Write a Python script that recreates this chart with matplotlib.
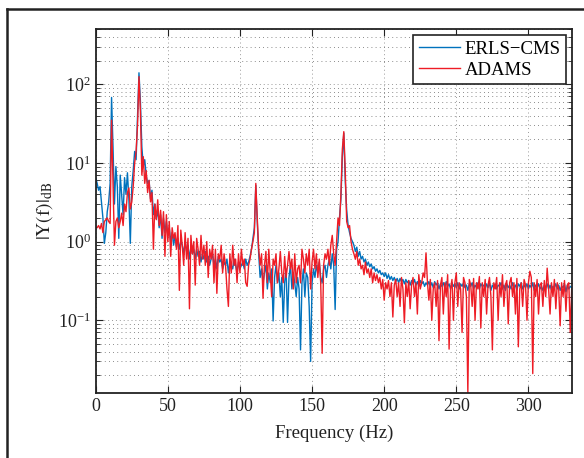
import numpy as np
import matplotlib
matplotlib.use("Agg")
import matplotlib.pyplot as plt
from matplotlib.lines import Line2D
from matplotlib.ticker import LogLocator, MultipleLocator

plt.rcParams['font.family'] = ['Liberation Serif', 'DejaVu Serif']
plt.rcParams['mathtext.fontset'] = 'stix'

freq_start, freq_step = 0, 1  # Hz

erls_cms = [
    6.5, 5.5, 4.5, 5.0, 3.2, 2.0, 0.95, 1.3, 2.4, 3.2,
    5.5, 68, 16, 3, 9, 5, 1.1, 7, 4, 2.2,
    6.5, 4, 7.5, 3.5, 0.95, 5, 8, 14, 11, 38,
    140, 60, 16, 9, 11, 7, 5.5, 6, 3.5, 4.5,
    2.2, 3.0, 2.0, 2.5, 1.5, 2.2, 1.1, 2.0, 1.3, 1.8,
    1.2, 1.5, 1.0, 1.3, 0.9, 1.2, 0.85, 1.1, 0.8, 1.0,
    0.9, 0.7, 1.0, 0.75, 0.9, 0.6, 0.85, 0.7, 0.8, 0.6,
    0.8, 0.65, 0.75, 0.55, 0.7, 0.6, 0.75, 0.55, 0.65, 0.5,
    0.6, 0.7, 0.5, 0.6, 0.45, 0.65, 0.55, 0.6, 0.45, 0.55,
    0.5, 0.6, 0.4, 0.55, 0.5, 0.45, 0.6, 0.5, 0.4, 0.55,
    0.45, 0.5, 0.55, 0.45, 0.6, 0.5, 0.55, 0.65, 0.8, 1.1,
    1.5, 5.2, 1.8, 0.7, 0.35, 0.45, 0.3, 0.4, 0.5, 0.25,
    0.4, 0.3, 0.45, 0.098, 0.35, 0.5, 0.3, 0.4, 0.2, 0.35,
    0.094, 0.3, 0.45, 0.094, 0.35, 0.5, 0.25, 0.4, 0.3, 0.2,
    0.35, 0.25, 0.042, 0.3, 0.45, 0.2, 0.4, 0.35, 0.15, 0.03,
    0.3, 0.45, 0.35, 0.5, 0.4, 0.55, 0.35, 0.3, 0.45, 0.5,
    0.35, 0.5, 0.6, 0.45, 0.7, 0.5, 0.137, 0.8, 1.0, 2.0,
    3.5, 12, 24, 6, 2.5, 1.6, 1.3, 1.1, 1.0, 0.9,
    0.75, 0.85, 0.65, 0.75, 0.6, 0.65, 0.55, 0.6, 0.5, 0.55,
    0.48, 0.52, 0.45, 0.48, 0.42, 0.45, 0.4, 0.43, 0.38, 0.4,
    0.36, 0.4, 0.34, 0.38, 0.33, 0.36, 0.32, 0.35, 0.31, 0.34,
    0.3, 0.34, 0.31, 0.33, 0.29, 0.33, 0.3, 0.32, 0.28, 0.32,
    0.29, 0.33, 0.28, 0.31, 0.27, 0.32, 0.29, 0.31, 0.27, 0.3,
    0.28, 0.31, 0.27, 0.3, 0.26, 0.31, 0.28, 0.3, 0.25, 0.29,
    0.27, 0.3, 0.26, 0.31, 0.27, 0.29, 0.25, 0.3, 0.27, 0.29,
    0.26, 0.3, 0.25, 0.29, 0.27, 0.3, 0.26, 0.28, 0.24, 0.29,
    0.27, 0.3, 0.25, 0.28, 0.26, 0.3, 0.25, 0.29, 0.27, 0.28,
    0.25, 0.29, 0.26, 0.3, 0.24, 0.28, 0.26, 0.29, 0.25, 0.28,
    0.27, 0.3, 0.25, 0.28, 0.24, 0.29, 0.26, 0.28, 0.25, 0.3,
    0.26, 0.28, 0.24, 0.29, 0.27, 0.3, 0.25, 0.28, 0.26, 0.29,
    0.25, 0.28, 0.26, 0.3, 0.24, 0.28, 0.26, 0.29, 0.25, 0.27,
    0.24, 0.28, 0.26, 0.29, 0.25, 0.28, 0.24, 0.27, 0.26, 0.29,
    0.25, 0.28, 0.24, 0.27, 0.26, 0.29, 0.23, 0.28, 0.25, 0.27,
    0.26,
]

adams = [
    1.5, 1.5, 1.6, 1.45, 1.7, 1.3, 1.8, 1.9, 2.0, 1.8,
    1.7, 35, 6, 0.9, 1.8, 2.0, 1.5, 1.8, 2.3, 1.6,
    3.0, 2.4, 4.2, 4.8, 2.6, 3.2, 5.0, 10, 14, 30,
    125, 45, 7, 12, 5.5, 8, 4.2, 6, 3.2, 4.2,
    0.8, 3.0, 1.9, 3.4, 1.6, 2.5, 1.2, 2.4, 0.65, 2.2,
    1.0, 1.8, 0.65, 1.5, 1.1, 1.3, 0.8, 1.6, 0.24, 1.4,
    0.9, 0.5, 1.3, 0.6, 1.1, 0.14, 1.2, 0.7, 1.0, 0.28,
    1.1, 0.8, 0.5, 1.2, 0.6, 0.9, 0.5, 1.0, 0.35, 0.8,
    0.6, 0.9, 0.3, 0.8, 0.22, 0.7, 0.6, 0.9, 0.4, 0.7,
    0.5, 0.25, 0.15, 0.7, 0.4, 0.9, 0.5, 0.6, 0.3, 0.7,
    0.4, 0.8, 0.5, 0.6, 0.3, 0.27, 0.5, 0.6, 0.8, 1.0,
    1.3, 5.5, 2.0, 0.8, 0.5, 0.7, 0.19, 0.5, 0.75, 0.3,
    0.8, 0.4, 0.2, 0.6, 0.5, 0.7, 0.3, 0.45, 0.75, 0.4,
    0.3, 0.65, 0.35, 0.5, 0.75, 0.45, 0.6, 0.25, 0.7, 0.3,
    0.45, 0.5, 0.3, 0.8, 0.6, 0.4, 0.7, 0.5, 0.8, 0.25,
    0.55, 0.8, 0.45, 0.7, 0.35, 0.6, 0.3, 0.038, 0.5, 0.7,
    0.6, 0.8, 0.5, 0.9, 1.2, 0.7, 0.5, 1.0, 2.0, 1.6,
    4.0, 15, 25, 8, 1.8, 1.5, 1.6, 1.0, 0.8, 0.7,
    0.6, 0.75, 0.5, 0.6, 0.45, 0.5, 0.38, 0.55, 0.4, 0.45,
    0.35, 0.45, 0.3, 0.4, 0.32, 0.38, 0.3, 0.35, 0.25, 0.33,
    0.18, 0.3, 0.25, 0.32, 0.2, 0.3, 0.11, 0.28, 0.33, 0.2,
    0.3, 0.15, 0.35, 0.25, 0.093, 0.3, 0.2, 0.32, 0.14, 0.28,
    0.35, 0.2, 0.3, 0.12, 0.38, 0.25, 0.3, 0.4, 0.35, 0.72,
    0.3, 0.18, 0.33, 0.1, 0.25, 0.3, 0.15, 0.32, 0.055, 0.28,
    0.35, 0.12, 0.3, 0.2, 0.38, 0.043, 0.25, 0.33, 0.1, 0.3,
    0.4, 0.15, 0.3, 0.25, 0.07, 0.35, 0.3, 0.2, 0.012, 0.33,
    0.28, 0.15, 0.34, 0.1, 0.3, 0.25, 0.36, 0.08, 0.3, 0.2,
    0.33, 0.12, 0.28, 0.35, 0.2, 0.042, 0.3, 0.25, 0.35, 0.1,
    0.3, 0.2, 0.38, 0.15, 0.28, 0.32, 0.09, 0.3, 0.35, 0.2,
    0.3, 0.12, 0.34, 0.046, 0.25, 0.3, 0.15, 0.33, 0.28, 0.1,
    0.3, 0.42, 0.35, 0.021, 0.3, 0.2, 0.33, 0.12, 0.28, 0.3,
    0.15, 0.32, 0.2, 0.46, 0.25, 0.12, 0.3, 0.2, 0.33, 0.14,
    0.3, 0.25, 0.085, 0.3, 0.2, 0.32, 0.13, 0.28, 0.3, 0.07,
    0.25,
]

series_names = ['ERLS\u2212CMS', 'ADAMS']
x_label = 'Frequency (Hz)'
y_label = r'$\mathrm{|Y(f)|_{dB}}$'

freq = freq_start + freq_step * np.arange(len(erls_cms))

W, H = 584, 458
fig = plt.figure(figsize=(W / 100, H / 100), dpi=100)
# outer frame (left and top edges visible)
fx, fy = 6.5 / W, 1 - 8.5 / H
fig.add_artist(Line2D([fx, fx], [fy, -0.05], transform=fig.transFigure,
                      color='#222222', lw=1.8))
fig.add_artist(Line2D([fx, 1.05], [fy, fy], transform=fig.transFigure,
                      color='#222222', lw=1.8))

ax = fig.add_axes([95.7 / W, 1 - 392.7 / H, (571.7 - 95.7) / W, (392.7 - 29.3) / H])

ax.plot(freq, erls_cms, color='#0072BD', lw=1.0, label=series_names[0])
ax.plot(freq, adams, color='#EE1C25', lw=1.0, label=series_names[1])

ax.set_yscale('log')
ax.set_xlim(0, 330)
ax.set_ylim(0.012, 500)
ax.xaxis.set_major_locator(MultipleLocator(50))
ax.yaxis.set_major_locator(LogLocator(base=10, numticks=10))
ax.yaxis.set_minor_locator(LogLocator(base=10, subs=np.arange(2, 10), numticks=20))

ax.grid(True, which='major', linestyle=(0, (1, 3)), color='#999999', linewidth=0.7)
ax.grid(True, which='minor', axis='y', linestyle=(0, (1, 4)), color='#666666', linewidth=0.6)
ax.tick_params(which='both', direction='in', top=True, right=True, labelsize=13,
               colors='#222222')
ax.tick_params(which='major', length=5)
ax.tick_params(which='minor', length=3)
for s in ax.spines.values():
    s.set_linewidth(1.3)
    s.set_color('#222222')

ax.set_xlabel(x_label, fontsize=13.5, color='#222222', labelpad=7)
ax.set_ylabel(y_label, fontsize=14, color='#222222', labelpad=2)

leg = ax.legend(loc='upper right', fontsize=13.5, fancybox=False, framealpha=1,
                edgecolor='#222222', handlelength=2.2, borderaxespad=0.3,
                borderpad=0.3, labelspacing=0.2, handletextpad=0.25)
leg.get_frame().set_linewidth(1.2)

fig.savefig('out.png', dpi=100)
